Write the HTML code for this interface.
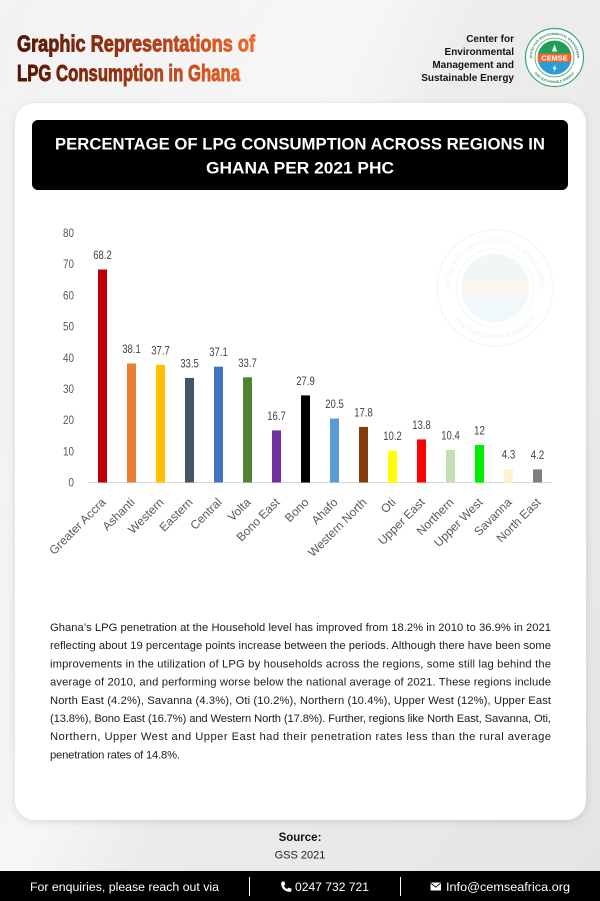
<!DOCTYPE html>
<html><head><meta charset="utf-8"><style>
html,body{margin:0;padding:0;background:#ececec;}
svg{display:block;font-family:"Liberation Sans",Arial,sans-serif;}
</style></head><body>
<svg width="600" height="901" viewBox="0 0 600 901" xmlns="http://www.w3.org/2000/svg">
<defs>
 <linearGradient id="bg" x1="0" y1="0" x2="1" y2="1">
  <stop offset="0" stop-color="#f3f3f3"/>
  <stop offset="0.35" stop-color="#ededed"/>
  <stop offset="0.7" stop-color="#eaeaea"/>
  <stop offset="1" stop-color="#e4e4e4"/>
 </linearGradient>
 <linearGradient id="sheen" x1="0" y1="0" x2="1" y2="0.6">
  <stop offset="0" stop-color="#fff" stop-opacity="0"/>
  <stop offset="0.45" stop-color="#fff" stop-opacity="0.55"/>
  <stop offset="0.6" stop-color="#fff" stop-opacity="0"/>
 </linearGradient>
 <linearGradient id="tg" gradientUnits="userSpaceOnUse" x1="17" y1="0" x2="255" y2="0">
  <stop offset="0" stop-color="#541506"/>
  <stop offset="0.45" stop-color="#9b3514"/>
  <stop offset="1" stop-color="#ee6b2e"/>
 </linearGradient>
 <filter id="sh" x="-5%" y="-5%" width="110%" height="110%">
  <feDropShadow dx="0" dy="2" stdDeviation="4" flood-color="#000" flood-opacity="0.12"/>
 </filter>
 <clipPath id="ic"><circle cx="0" cy="0" r="17"/></clipPath>
</defs>

<!-- background -->
<rect x="0" y="0" width="600" height="901" fill="url(#bg)"/>
<rect x="0" y="0" width="600" height="901" fill="url(#sheen)"/>

<!-- header title -->
<g font-size="23" font-weight="bold" fill="url(#tg)" stroke="url(#tg)" stroke-width="0.9">
<text x="17" y="51.7" textLength="238" lengthAdjust="spacingAndGlyphs">Graphic Representations of</text>
<text x="17" y="81" textLength="223" lengthAdjust="spacingAndGlyphs">LPG Consumption in Ghana</text>
</g>

<!-- header org text -->
<g font-size="10" font-weight="bold" fill="#151515" text-anchor="end">
 <text x="514" y="42">Center for</text>
 <text x="514" y="55">Environmental</text>
 <text x="514" y="68">Management and</text>
 <text x="514" y="81">Sustainable Energy</text>
</g>

<!-- logo -->
<g transform="translate(554.5,57.5)">
 <circle r="29" fill="#fff" stroke="#3aa76d" stroke-width="1.2"/>
 <circle r="19.5" fill="none" stroke="#3aa76d" stroke-width="0.8"/>
 <path id="rt1" d="M-22.5,0 A22.5,22.5 0 0,1 22.5,0" fill="none"/>
 <path id="rb1" d="M-25.5,0 A25.5,25.5 0 0,0 25.5,0" fill="none"/>
 <text font-size="3.3" font-weight="bold" fill="#2d8a55"><textPath href="#rt1" startOffset="50%" text-anchor="middle">CENTRE FOR ENVIRONMENTAL MANAGEMENT</textPath></text>
 <text font-size="3.3" font-weight="bold" fill="#2d8a55"><textPath href="#rb1" startOffset="50%" text-anchor="middle">AND SUSTAINABLE ENERGY</textPath></text>
 <g clip-path="url(#ic)">
  <rect x="-17" y="-17" width="34" height="13" fill="#1f9e58"/>
  <rect x="-17" y="-4" width="34" height="8.5" fill="#f0652c"/>
  <rect x="-17" y="4.5" width="34" height="13" fill="#2b9bd8"/>
 </g>
 <text y="3" text-anchor="middle" font-size="7.4" font-weight="bold" fill="#fff">CEMSE</text>
 <path d="M0,-13 L2.6,-6 L-2.6,-6 Z" fill="#fff"/>
 <path d="M1.2,6.5 L-2,11.5 L0,11.5 L-1,15 L2.2,10 L0.2,10 Z" fill="#fff"/>
</g>

<!-- card -->
<rect x="15" y="103" width="571" height="717" rx="20" ry="20" fill="#fff" filter="url(#sh)"/>

<!-- chart title box -->
<rect x="32" y="120" width="536" height="70" rx="6" ry="6" fill="#000"/>
<text x="55" y="149.3" font-size="16.8" font-weight="bold" fill="#fff" textLength="490" lengthAdjust="spacingAndGlyphs">PERCENTAGE OF LPG CONSUMPTION ACROSS REGIONS IN</text>
<text x="206" y="173.3" font-size="16.8" font-weight="bold" fill="#fff" textLength="188" lengthAdjust="spacingAndGlyphs">GHANA PER 2021 PHC</text>

<!-- watermark -->
<g transform="translate(495,288) scale(2)" opacity="0.06">
 <circle r="29" fill="#fff" stroke="#3aa76d" stroke-width="0.8"/>
 <circle r="19.5" fill="none" stroke="#3aa76d" stroke-width="0.5"/>
 <path id="rt2" d="M-22.5,0 A22.5,22.5 0 0,1 22.5,0" fill="none"/>
 <path id="rb2" d="M-25.5,0 A25.5,25.5 0 0,0 25.5,0" fill="none"/>
 <text font-size="3.3" font-weight="bold" fill="#2d8a55"><textPath href="#rt2" startOffset="50%" text-anchor="middle">CENTRE FOR ENVIRONMENTAL MANAGEMENT</textPath></text>
 <text font-size="3.3" font-weight="bold" fill="#2d8a55"><textPath href="#rb2" startOffset="50%" text-anchor="middle">AND SUSTAINABLE ENERGY</textPath></text>
 <g clip-path="url(#ic)">
  <rect x="-17" y="-17" width="34" height="13" fill="#1f9e58"/>
  <rect x="-17" y="-4" width="34" height="8.5" fill="#f0652c"/>
  <rect x="-17" y="4.5" width="34" height="13" fill="#2b9bd8"/>
 </g>
 <text y="3" text-anchor="middle" font-size="7.4" font-weight="bold" fill="#f0652c">CEMSE</text>
</g>

<!-- y tick labels -->
<g font-size="11.8" fill="#595959" text-anchor="end">
 <text x="74" y="236.9" textLength="11" lengthAdjust="spacingAndGlyphs">80</text>
 <text x="74" y="268.1" textLength="11" lengthAdjust="spacingAndGlyphs">70</text>
 <text x="74" y="299.3" textLength="11" lengthAdjust="spacingAndGlyphs">60</text>
 <text x="74" y="330.6" textLength="11" lengthAdjust="spacingAndGlyphs">50</text>
 <text x="74" y="361.8" textLength="11" lengthAdjust="spacingAndGlyphs">40</text>
 <text x="74" y="393" textLength="11" lengthAdjust="spacingAndGlyphs">30</text>
 <text x="74" y="424.2" textLength="11" lengthAdjust="spacingAndGlyphs">20</text>
 <text x="74" y="455.5" textLength="11" lengthAdjust="spacingAndGlyphs">10</text>
 <text x="74" y="486.7" textLength="5.6" lengthAdjust="spacingAndGlyphs">0</text>
</g>

<!-- axis -->
<line x1="88" y1="482.5" x2="552" y2="482.5" stroke="#d9d9d9" stroke-width="1"/>

<!-- bars -->
<g>
 <rect x="98" y="269.5" width="9" height="213" fill="#c00000"/>
 <rect x="127" y="363.5" width="9" height="119" fill="#ed7d31"/>
 <rect x="156" y="364.8" width="9" height="117.7" fill="#ffc000"/>
 <rect x="185" y="377.9" width="9" height="104.6" fill="#44546a"/>
 <rect x="214" y="366.7" width="9" height="115.8" fill="#4472c4"/>
 <rect x="243" y="377.3" width="9" height="105.2" fill="#548235"/>
 <rect x="272" y="430.4" width="9" height="52.1" fill="#7030a0"/>
 <rect x="301" y="395.4" width="9" height="87.1" fill="#000000"/>
 <rect x="330" y="418.5" width="9" height="64" fill="#5b9bd5"/>
 <rect x="359" y="426.9" width="9" height="55.6" fill="#843c0c"/>
 <rect x="388" y="450.7" width="9" height="31.8" fill="#ffff00"/>
 <rect x="417" y="439.4" width="9" height="43.1" fill="#ff0000"/>
 <rect x="446" y="450" width="9" height="32.5" fill="#c5e0b4"/>
 <rect x="475" y="445" width="9" height="37.5" fill="#00ee00"/>
 <rect x="504" y="469.1" width="9" height="13.4" fill="#fff2cc"/>
 <rect x="533" y="469.4" width="9" height="13.1" fill="#7f7f7f"/>
</g>

<!-- data labels -->
<g font-size="11.8" fill="#404040" text-anchor="middle" lengthAdjust="spacingAndGlyphs">
 <text x="102.5" y="259" textLength="18.5" lengthAdjust="spacingAndGlyphs">68.2</text>
 <text x="131.5" y="353" textLength="18.5" lengthAdjust="spacingAndGlyphs">38.1</text>
 <text x="160.5" y="354.3" textLength="18.5" lengthAdjust="spacingAndGlyphs">37.7</text>
 <text x="189.5" y="367.4" textLength="18.5" lengthAdjust="spacingAndGlyphs">33.5</text>
 <text x="218.5" y="356.2" textLength="18.5" lengthAdjust="spacingAndGlyphs">37.1</text>
 <text x="247.5" y="366.8" textLength="18.5" lengthAdjust="spacingAndGlyphs">33.7</text>
 <text x="276.5" y="419.9" textLength="18.5" lengthAdjust="spacingAndGlyphs">16.7</text>
 <text x="305.5" y="384.9" textLength="18.5" lengthAdjust="spacingAndGlyphs">27.9</text>
 <text x="334.5" y="408" textLength="18.5" lengthAdjust="spacingAndGlyphs">20.5</text>
 <text x="363.5" y="416.4" textLength="18.5" lengthAdjust="spacingAndGlyphs">17.8</text>
 <text x="392.5" y="440.2" textLength="18.5" lengthAdjust="spacingAndGlyphs">10.2</text>
 <text x="421.5" y="428.9" textLength="18.5" lengthAdjust="spacingAndGlyphs">13.8</text>
 <text x="450.5" y="439.5" textLength="18.5" lengthAdjust="spacingAndGlyphs">10.4</text>
 <text x="479.5" y="434.5" textLength="11" lengthAdjust="spacingAndGlyphs">12</text>
 <text x="508.5" y="458.6" textLength="13.5" lengthAdjust="spacingAndGlyphs">4.3</text>
 <text x="537.5" y="458.9" textLength="13.5" lengthAdjust="spacingAndGlyphs">4.2</text>
</g>

<!-- x labels -->
<g font-size="12" fill="#595959" text-anchor="end">
 <text transform="translate(106.5,503) rotate(-45)">Greater Accra</text>
 <text transform="translate(135.5,503) rotate(-45)">Ashanti</text>
 <text transform="translate(164.5,503) rotate(-45)">Western</text>
 <text transform="translate(193.5,503) rotate(-45)">Eastern</text>
 <text transform="translate(222.5,503) rotate(-45)">Central</text>
 <text transform="translate(251.5,503) rotate(-45)">Volta</text>
 <text transform="translate(280.5,503) rotate(-45)">Bono East</text>
 <text transform="translate(309.5,503) rotate(-45)">Bono</text>
 <text transform="translate(338.5,503) rotate(-45)">Ahafo</text>
 <text transform="translate(367.5,503) rotate(-45)">Western North</text>
 <text transform="translate(396.5,503) rotate(-45)">Oti</text>
 <text transform="translate(425.5,503) rotate(-45)">Upper East</text>
 <text transform="translate(454.5,503) rotate(-45)">Northern</text>
 <text transform="translate(483.5,503) rotate(-45)">Upper West</text>
 <text transform="translate(512.5,503) rotate(-45)">Savanna</text>
 <text transform="translate(541.5,503) rotate(-45)">North East</text>
</g>

<!-- paragraph -->
<g font-size="11.2" fill="#1c1c1c">
 <text x="50" y="631" textLength="501" lengthAdjust="spacing">Ghana’s LPG penetration at the Household level has improved from 18.2% in 2010 to 36.9% in 2021</text>
 <text x="50" y="649.2" textLength="501" lengthAdjust="spacing">reflecting about 19 percentage points increase between the periods. Although there have been some</text>
 <text x="50" y="667.4" textLength="501" lengthAdjust="spacing">improvements in the utilization of LPG by households across the regions, some still lag behind the</text>
 <text x="50" y="685.6" textLength="501" lengthAdjust="spacing">average of 2010, and performing worse below the national average of 2021. These regions include</text>
 <text x="50" y="703.8" textLength="501" lengthAdjust="spacing">North East (4.2%), Savanna (4.3%), Oti (10.2%), Northern (10.4%), Upper West (12%), Upper East</text>
 <text x="50" y="722" textLength="501" lengthAdjust="spacing">(13.8%), Bono East (16.7%) and Western North (17.8%). Further, regions like North East, Savanna, Oti,</text>
 <text x="50" y="740.2" textLength="501" lengthAdjust="spacing">Northern, Upper West and Upper East had their penetration rates less than the rural average</text>
 <text x="50" y="758.4" textLength="130" lengthAdjust="spacing">penetration rates of 14.8%.</text>
</g>

<!-- source -->
<text x="300" y="841" font-size="11.5" font-weight="bold" fill="#111" text-anchor="middle">Source:</text>
<text x="300" y="858.5" font-size="11" fill="#222" text-anchor="middle">GSS 2021</text>

<!-- footer -->
<rect x="0" y="871" width="600" height="30" fill="#000"/>
<g font-size="12.3" fill="#fff">
 <text x="30" y="891" textLength="189" lengthAdjust="spacingAndGlyphs">For enquiries, please reach out via</text>
 <text x="295" y="891" textLength="74" lengthAdjust="spacingAndGlyphs">0247 732 721</text>
 <text x="446" y="891" textLength="124" lengthAdjust="spacingAndGlyphs">Info@cemseafrica.org</text>
</g>
<line x1="249.5" y1="877" x2="249.5" y2="896" stroke="#fff" stroke-width="1"/>
<line x1="400.5" y1="877" x2="400.5" y2="896" stroke="#fff" stroke-width="1"/>
<path d="M282,881.5 l2.3,0 l1,3 l-1.4,1.2 q1,2.3 3.3,3.3 l1.2,-1.4 l3,1 l0,2.3 q-0.4,1 -1.5,1 q-8.2,-0.6 -8.8,-8.7 q0,-1 0.9,-1.2z" fill="#fff"/>
<rect x="430.5" y="882.5" width="10.5" height="8" fill="#fff"/>
<polyline points="430.8,883 435.75,887.2 440.7,883" fill="none" stroke="#000" stroke-width="0.9"/>
</svg>
</body></html>
